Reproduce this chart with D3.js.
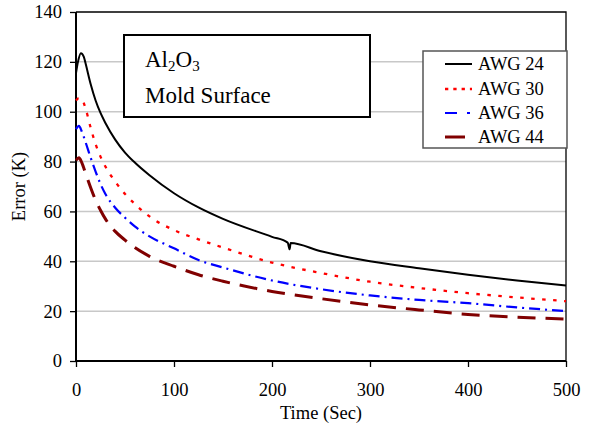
<!DOCTYPE html>
<html>
<head>
  <title></title>
  <script src="https://d3js.org/d3.v7.min.js"></script>
  <style>
    body { margin: 0; background: #fff; }
    svg text { font-family: "Liberation Serif", "Times New Roman", Times, serif; fill: #000; }
  </style>
</head>
<body>
<script type="text/javascript">
// data
var times24 = [0, 2, 5, 8, 10, 15, 20, 25, 30, 40, 50, 60, 75, 100, 125, 150, 200, 216, 218, 219, 250, 300, 350, 400, 450, 500];
var awg24   = [115.5, 120, 123.5, 122, 119, 111, 104.5, 99.5, 95.5, 88.8, 83.6, 79.6, 74.5, 67.3, 61.6, 57, 49.8, 47.5, 44.8, 47.3, 44, 40, 37.2, 34.6, 32.3, 30.3];
var times = [0, 3, 6, 10, 15, 20, 25, 30, 40, 50, 60, 75, 100, 125, 150, 200, 250, 300, 350, 400, 450, 500];
var awg30 = [104.5, 105.5, 105, 101, 93.5, 87, 82, 78, 72, 67, 63, 58, 52.5, 48.8, 45.5, 39.5, 35.3, 31.8, 29.3, 27.2, 25.5, 24];
var awg36 = [93, 94.3, 92, 87.5, 81.5, 76, 71, 67, 61.5, 57.5, 54, 50, 45.2, 40.5, 37.5, 32.3, 28.8, 26.3, 24.5, 23.2, 21.5, 20];
var awg44 = [80.5, 81.5, 79.5, 75, 69.5, 64.5, 60.5, 57, 52, 48.5, 45.5, 42, 38, 34.6, 32, 27.9, 25, 22.5, 20.5, 18.7, 17.6, 16.8];
var seriesNames = ["AWG 24", "AWG 30", "AWG 36", "AWG 44"];
var xTicks = [0, 100, 200, 300, 400, 500];
var yTicks = [0, 20, 40, 60, 80, 100, 120, 140];

var FONT = '"Liberation Serif", "Times New Roman", Times, serif';
var W = 590, H = 433;
var margin = {top: 12, right: 24, bottom: 72, left: 76};

var svg = d3.select("body").append("svg")
    .attr("width", W).attr("height", H);

var x = d3.scaleLinear().domain([0, 500]).range([0, 490]);
var y = d3.scaleLinear().domain([0, 140]).range([349, 0]);

var g = svg.append("g")
    .attr("transform", "translate(" + margin.left + "," + margin.top + ")");

// gridlines
g.selectAll(".grid").data(yTicks.filter(function(d){ return d > 0 && d < 140; }))
  .enter().append("line")
  .attr("x1", 0).attr("x2", x(500))
  .attr("y1", function(d){ return y(d); }).attr("y2", function(d){ return y(d); })
  .attr("stroke", "#c8c8c8").attr("stroke-width", 1.5);

// frame top / right
g.append("path")
  .attr("d", "M0," + y(140) + "H" + x(500) + "V" + y(0))
  .attr("fill", "none").attr("stroke", "#000").attr("stroke-width", 1.3);

// axes
var yAxis = g.append("g")
  .call(d3.axisLeft(y).tickValues(yTicks).tickSize(6).tickPadding(8));
var xAxis = g.append("g")
  .attr("transform", "translate(0," + y(0) + ")")
  .call(d3.axisBottom(x).tickValues(xTicks).tickSize(6).tickPadding(16));
[xAxis, yAxis].forEach(function(a){
  a.attr("font-family", FONT).attr("font-size", 18.5);
  a.select(".domain").attr("stroke", "#000").attr("stroke-width", 2);
  a.selectAll(".tick line").attr("stroke", "#000").attr("stroke-width", 1.3);
  a.selectAll(".tick text").attr("fill", "#000").style("font-size", "18.5px");
});
yAxis.select(".domain").attr("d", "M0," + y(0) + "V" + y(140));
xAxis.select(".domain").attr("d", "M0,0H" + x(500));

// axis titles
svg.append("text")
  .attr("x", margin.left + x(250)).attr("y", 419)
  .attr("text-anchor", "middle").style("font-size", "18.5px")
  .text("Time (Sec)");
svg.append("text")
  .attr("transform", "translate(25," + (margin.top + y(70)) + ") rotate(-90)")
  .attr("text-anchor", "middle").style("font-size", "18.5px")
  .text("Error (K)");

// curves
var line = d3.line()
  .x(function(d){ return x(d[0]); })
  .y(function(d){ return y(d[1]); })
  .curve(d3.curveMonotoneX);

var series = [
  {name: seriesNames[0], t: times24, v: awg24, color: "#000000", w: 2, dash: null, legDash: null, legEnd: 472},
  {name: seriesNames[1], t: times, v: awg30, color: "#ff0000", w: 2.3, dash: "3.5,7.5", legDash: "3.3,5", legEnd: 472},
  {name: seriesNames[2], t: times, v: awg36, color: "#0000ff", w: 2.2, dash: "11,5,2,5", legDash: "12,10,3,10", legEnd: 472},
  {name: seriesNames[3], t: times, v: awg44, color: "#800000", w: 3, dash: "18,10", legDash: null, legEnd: 465}
];

series.forEach(function(s){
  var pts = s.t.map(function(t, i){ return [t, s.v[i]]; });
  g.append("path")
    .attr("d", line(pts))
    .attr("fill", "none")
    .attr("stroke", s.color)
    .attr("stroke-width", s.w)
    .attr("stroke-dasharray", s.dash);
});

// annotation box
var ann = svg.append("g");
ann.append("rect")
  .attr("x", 124).attr("y", 35).attr("width", 246).attr("height", 82)
  .attr("fill", "#fff").attr("stroke", "#000").attr("stroke-width", 2);
var t1 = ann.append("text").attr("x", 145).attr("y", 67).style("font-size", "23px");
t1.append("tspan").text("Al");
t1.append("tspan").attr("dy", 4).style("font-size", "15px").text("2");
t1.append("tspan").attr("dy", -4).text("O");
t1.append("tspan").attr("dy", 4).style("font-size", "15px").text("3");
ann.append("text").attr("x", 145).attr("y", 103).style("font-size", "23px").text("Mold Surface");

// legend
var leg = svg.append("g");
leg.append("rect")
  .attr("x", 423).attr("y", 51).attr("width", 144).attr("height", 97)
  .attr("fill", "#fff").attr("stroke", "#555").attr("stroke-width", 1.5);
var rowY = [64, 89, 113, 137];
series.forEach(function(s, i){
  leg.append("line")
    .attr("x1", 445).attr("x2", s.legEnd)
    .attr("y1", rowY[i]).attr("y2", rowY[i])
    .attr("stroke", s.color).attr("stroke-width", s.w)
    .attr("stroke-dasharray", s.legDash);
  leg.append("text")
    .attr("x", 478).attr("y", rowY[i] + 6)
    .style("font-size", "18.5px")
    .text(s.name);
});
</script>
</body>
</html>
